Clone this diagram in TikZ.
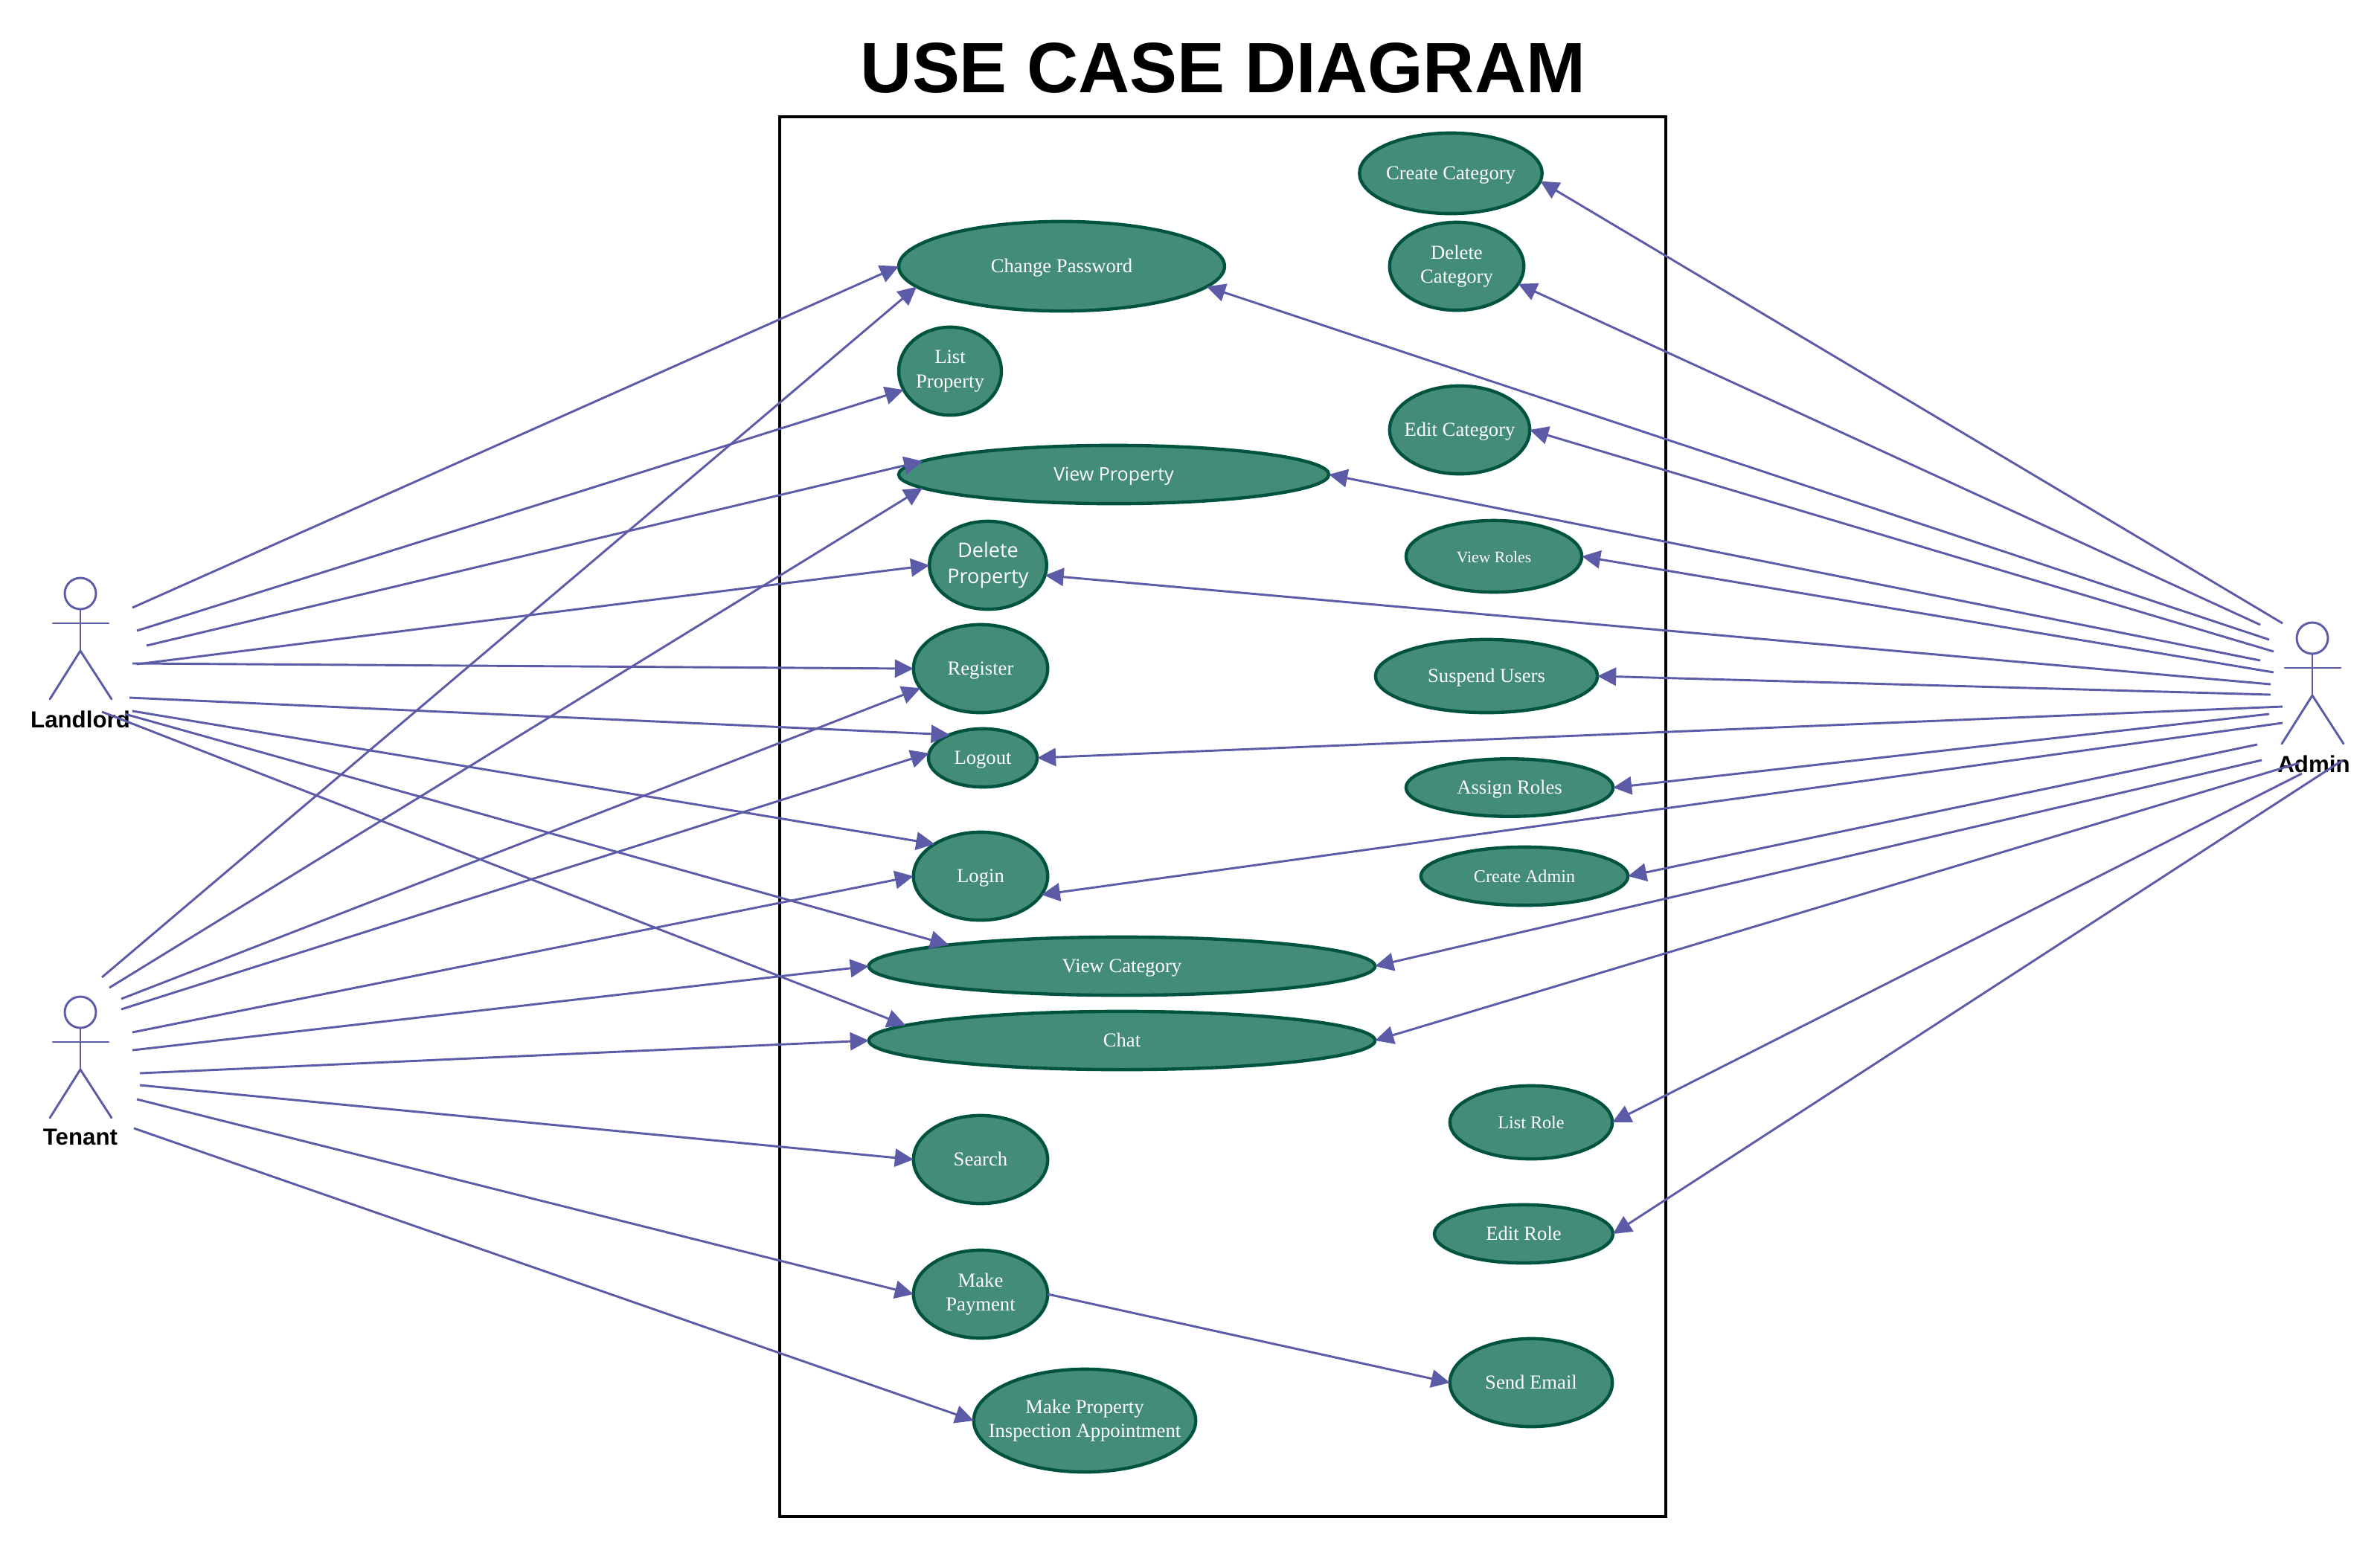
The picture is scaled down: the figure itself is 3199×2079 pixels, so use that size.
\documentclass[tikz,border=0pt]{standalone}
\usepackage{fontspec}
\setmainfont{Liberation Serif}
\newfontfamily\titlefont{Liberation Sans}
\newfontfamily\osfont{Open Sans}
\usetikzlibrary{shapes.geometric,arrows.meta}
\definecolor{ucfill}{HTML}{438C78}
\definecolor{ucline}{HTML}{00533E}
\definecolor{flowc}{HTML}{5B5BA8}
\tikzset{
  uc/.style={ellipse,draw=ucline,fill=ucfill,line width=1.05pt,inner sep=-8pt,outer sep=0pt,
    text=white,align=center,font=\fontsize{6.4}{7.8}\selectfont},
  ucone/.style={uc,text height=5.4pt,text depth=1.2pt},
  ucsmall/.style={ucone,font=\fontsize{5.2}{6.4}\selectfont},
  ucmid/.style={ucone,font=\fontsize{5.8}{7}\selectfont},
  ucsans/.style={ucone,font=\osfont\fontsize{6}{7.8}\selectfont},
  ucsansb/.style={uc,font=\osfont\fontsize{6.5}{8.2}\selectfont},
  flow/.style={draw=flowc,line width=0.7pt,-{Triangle[length=6pt,width=5.8pt,fill=flowc]}},
  actorlabel/.style={font=\titlefont\bfseries\fontsize{7.5}{9}\selectfont,text=black,inner sep=0pt},
  stick/.style={draw=flowc,line width=0.7pt,line cap=round},
  sysbox/.style={draw=black,line width=0.8pt},
  actorfig/.pic={
    \draw[stick] (0,-40) circle (21);
    \draw[stick] (0,-19) -- (0,37);
    \draw[stick] (-37,0) -- (38,0);
    \draw[stick] (-41,102) -- (0,37) -- (42,102);
  }
}
\begin{document}
\begin{tikzpicture}[x=0.24pt,y=-0.24pt]
\useasboundingbox (0,0) rectangle (3199,2079);
\fill[white] (0,0) rectangle (3199,2079);
\node[font=\titlefont\bfseries\fontsize{23}{28}\selectfont,inner sep=0pt] (title) at (1644,91) {USE CASE DIAGRAM};
\draw[sysbox] (1048,157) rectangle (2239,2039);

% use cases
\node[ucone,minimum width=105.1pt,minimum height=28.9pt] (cp) at (1427,358) {Change Password};
\node[uc,minimum width=33.1pt,minimum height=28.4pt] (lp) at (1277,499) {List\\Property};
\node[ucsans,minimum width=138.8pt,minimum height=18.8pt] (vp) at (1497,638) {View Property};
\node[ucsansb,minimum width=37.8pt,minimum height=28.4pt] (dp) at (1328,760) {Delete\\Property};
\node[ucone,minimum width=43.3pt,minimum height=28.4pt] (reg) at (1318,899) {Register};
\node[ucone,minimum width=35.1pt,minimum height=18.8pt] (lo) at (1321,1019) {Logout};
\node[ucone,minimum width=43.3pt,minimum height=28.4pt] (li) at (1318,1178) {Login};
\node[ucone,minimum width=163.3pt,minimum height=18.8pt] (vc) at (1508,1299) {View Category};
\node[ucone,minimum width=163.3pt,minimum height=18.8pt] (chat) at (1508,1399) {Chat};
\node[ucone,minimum width=43.3pt,minimum height=28.4pt] (se) at (1318,1559) {Search};
\node[uc,minimum width=43.3pt,minimum height=28.4pt] (mp) at (1318,1740) {Make\\Payment};
\node[uc,minimum width=71.6pt,minimum height=33.2pt] (ia) at (1458,1910) {Make Property\\Inspection Appointment};
\node[ucone,minimum width=58.9pt,minimum height=26pt] (cc) at (1950,233) {Create Category};
\node[uc,minimum width=43.3pt,minimum height=28.4pt] (dc) at (1958,358) {Delete\\Category};
\node[ucone,minimum width=45.2pt,minimum height=28.4pt] (ec) at (1962,578) {Edit Category};
\node[ucsmall,minimum width=56.7pt,minimum height=23.1pt] (vr) at (2008,748) {View Roles};
\node[ucone,minimum width=71.6pt,minimum height=23.6pt] (su) at (1998,909) {Suspend Users};
\node[ucone,minimum width=66.8pt,minimum height=18.6pt] (ar) at (2029,1059) {Assign Roles};
\node[ucmid,minimum width=66.8pt,minimum height=18.8pt] (ca) at (2049,1178) {Create Admin};
\node[ucmid,minimum width=52.4pt,minimum height=23.6pt] (lr) at (2058,1509) {List Role};
\node[ucone,minimum width=57.6pt,minimum height=18.8pt] (er) at (2048,1659) {Edit Role};
\node[ucone,minimum width=52.4pt,minimum height=28.4pt] (sm) at (2058,1859) {Send Email};

% actors
\pic at (108,838) {actorfig};
\pic at (108,1401) {actorfig};
\pic at (3108,898) {actorfig};
\node[actorlabel] (landlord) at (108,967) {Landlord};
\node[actorlabel] (tenant) at (108,1529) {Tenant};
\node[actorlabel] (admin) at (3110,1027) {Admin};

% free ends of the connectors
\coordinate (l1) at (178,817);
\coordinate (l2) at (184,848);
\coordinate (l3) at (197,868);
\coordinate (l4) at (184,893);
\coordinate (l5) at (178,892);
\coordinate (l6) at (174,938);
\coordinate (l7) at (178,956);
\coordinate (l8) at (168,960);
\coordinate (l9) at (137,957);
\coordinate (t1) at (137,1314);
\coordinate (t2) at (147,1328);
\coordinate (t3) at (163,1343);
\coordinate (t4) at (163,1357);
\coordinate (t5) at (178,1388);
\coordinate (t6) at (178,1412);
\coordinate (t7) at (188,1443);
\coordinate (t8) at (188,1459);
\coordinate (t9) at (184,1478);
\coordinate (t10) at (180,1517);
\coordinate (a1) at (3068,838);
\coordinate (a2) at (3038,840);
\coordinate (a3) at (3050,860);
\coordinate (a4) at (3056,876);
\coordinate (a5) at (3038,888);
\coordinate (a6) at (3056,904);
\coordinate (a7) at (3052,920);
\coordinate (a8) at (3052,934);
\coordinate (a9) at (3068,950);
\coordinate (a10) at (3050,960);
\coordinate (a11) at (3068,972);
\coordinate (a12) at (3034,1001);
\coordinate (a13) at (3040,1022);
\coordinate (a14) at (3090,1026);
\coordinate (a15) at (3094,1040);
\coordinate (a16) at (3149,1022);

% landlord
\draw[flow] (l1) -- (cp.180);
\draw[flow] (l2) -- (lp.202);
\draw[flow] (l3) -- (vp.176);
\draw[flow] (l4) -- (dp.180);
\draw[flow] (l5) -- (reg.180);
\draw[flow] (l6) -- (lo.145);
\draw[flow] (l7) -- (li.145);
\draw[flow] (l8) -- (vc.173);
\draw[flow] (l9) -- (chat.176);
% tenant
\draw[flow] (t1) -- (cp.188);
\draw[flow] (t2) -- (vp.184.3);
\draw[flow] (t3) -- (reg.198);
\draw[flow] (t4) -- (lo.175);
\draw[flow] (t5) -- (li.180);
\draw[flow] (t6) -- (vc.180);
\draw[flow] (t7) -- (chat.180);
\draw[flow] (t8) -- (se.180);
\draw[flow] (t9) -- (mp.180);
\draw[flow] (t10) -- (ia.180);
% admin
\draw[flow] (a1) -- (cc.-5.6);
\draw[flow] (a2) -- (dc.-16.3);
\draw[flow] (a3) -- (cp.-8.5);
\draw[flow] (a4) -- (ec.0);
\draw[flow] (a5) -- (vp.0);
\draw[flow] (a6) -- (vr.0);
\draw[flow] (a7) -- (dp.-10.6);
\draw[flow] (a8) -- (su.0);
\draw[flow] (a9) -- (lo.0);
\draw[flow] (a10) -- (ar.0);
\draw[flow] (a11) -- (li.-17.4);
\draw[flow] (a12) -- (ca.0);
\draw[flow] (a13) -- (vc.0);
\draw[flow] (a14) -- (chat.0);
\draw[flow] (a15) -- (lr.0);
\draw[flow] (a16) -- (er.0);
% include
\draw[flow] (mp.0) -- (sm.180);
\end{tikzpicture}
\end{document}
